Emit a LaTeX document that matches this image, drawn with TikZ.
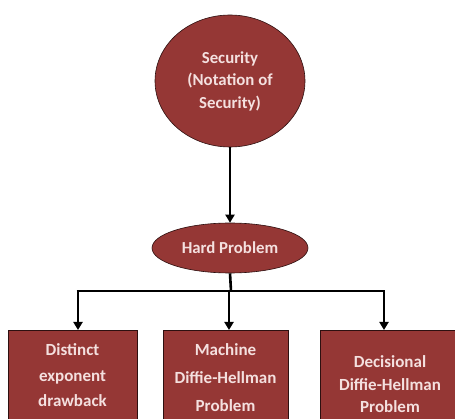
\documentclass[tikz,border=0pt]{standalone}
\usepackage{fontspec}
\setmainfont{Carlito}
\usetikzlibrary{arrows.meta,shapes.geometric}
\definecolor{boxred}{HTML}{953735}
\definecolor{txtpink}{HTML}{F4E0DF}
\begin{document}
\begin{tikzpicture}[x=1pt,y=-1pt,
  shape base/.style={fill=boxred,draw=black!70!boxred,line width=0.6pt,text=txtpink,
    font=\bfseries\fontsize{16.8}{22.5}\selectfont,align=center,inner sep=0pt},
  ovalnode/.style={shape base,ellipse},
  boxnode/.style={shape base,rectangle,anchor=north},
  conn/.style={line width=2.6pt,black},
  arr/.style={conn,-{Triangle[length=8pt,width=9pt]}}]
\useasboundingbox (0,0) rectangle (455,419);
\clip (0,0) rectangle (455,419);
\node[ovalnode,minimum width=150pt,minimum height=132pt] (sec) at (230,81) {Security\\(Notation of\\Security)};
\node[ovalnode,minimum width=156pt,minimum height=50pt] (hp) at (230,248) {Hard Problem};
\node[boxnode,minimum width=129pt,minimum height=90pt,font=\bfseries\fontsize{17}{25.5}\selectfont] (b1) at (72.5,330) {Distinct\\exponent\\drawback};
\node[boxnode,minimum width=125pt,minimum height=94pt,font=\bfseries\fontsize{17}{28}\selectfont] (b2) at (225.5,330) {Machine\\Diffie-Hellman\\Problem};
\node[boxnode,minimum width=140pt,minimum height=108pt,font=\bfseries\fontsize{17}{22.5}\selectfont] (b3) at (390,330) {Decisional\\Diffie-Hellman\\Problem};
\coordinate (j) at (231,291);
\coordinate (jl) at (78,291);
\coordinate (jm) at (229,291);
\coordinate (jr) at (384,291);
\draw[arr] (sec.south) -- (hp.north);
\draw[conn] (hp.south) -- (j);
\draw[conn] ([xshift=-1.3pt]jl) -- ([xshift=1.3pt]jr);
\draw[arr] (jl) -- (jl |- b1.north);
\draw[arr] (jm) -- (jm |- b2.north);
\draw[arr] (jr) -- (jr |- b3.north);
\end{tikzpicture}
\end{document}
